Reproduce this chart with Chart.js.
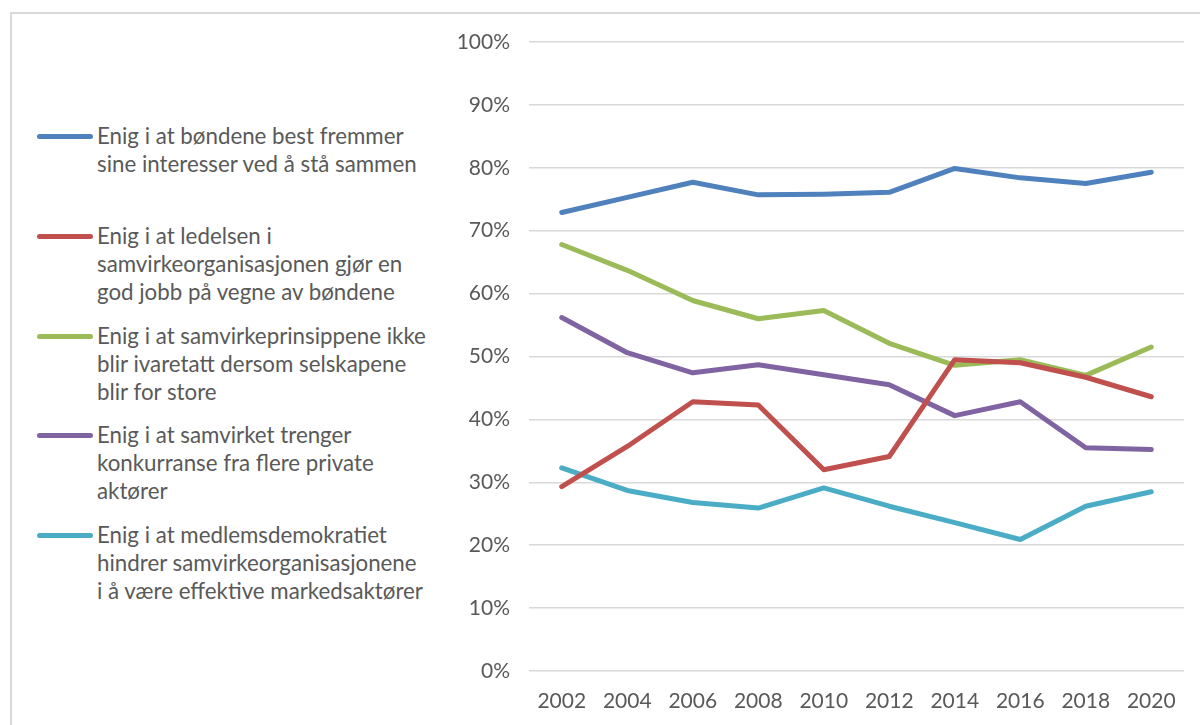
<!DOCTYPE html>
<html>
<head>
<meta charset="utf-8">
<script src="https://cdn.jsdelivr.net/npm/chart.js@4"></script>
<style>
    html, body { margin: 0; padding: 0; background: #fff; }
    body { width: 1200px; height: 725px; position: relative; overflow: hidden; font-family: Lato, "Open Sans", sans-serif; }
    #frame { position: absolute; left: 10px; top: 12px; width: 1300px; height: 800px; border-left: 2px solid #d9d9d9; border-top: 2px solid #d9d9d9; }
    #wrap { position: absolute; left: 440px; top: 0; width: 760px; height: 725px; }
    .legend-item { position: absolute; left: 37px; }
    .legend-item .swatch { position: absolute; left: 0; width: 56px; height: 5px; border-radius: 3px; }
    .legend-item .text { position: absolute; left: 60px; white-space: nowrap; color: #595959; font-size: 22.3px; line-height: 28px; }
</style>
</head>
<body>
<div id="frame"></div>
<div id="legend"></div>
<div id="wrap"><canvas id="chart" width="760" height="725"></canvas></div>
<script>
// data
const years = ['2002', '2004', '2006', '2008', '2010', '2012', '2014', '2016', '2018', '2020'];
const yTicks = [0, 10, 20, 30, 40, 50, 60, 70, 80, 90, 100];

const bondeneSammen = [72.9, 75.3, 77.7, 75.7, 75.8, 76.1, 79.9, 78.4, 77.5, 79.3];
const ledelsenGodJobb = [29.3, 35.7, 42.8, 42.3, 32.0, 34.1, 49.5, 49.0, 46.7, 43.6];
const forStore = [67.8, 63.7, 58.9, 56.0, 57.3, 52.1, 48.6, 49.5, 47.0, 51.5];
const trengerKonkurranse = [56.2, 50.6, 47.4, 48.7, 47.1, 45.5, 40.6, 42.8, 35.5, 35.2];
const medlemsdemokrati = [32.3, 28.7, 26.8, 25.9, 29.1, 26.2, 23.6, 20.9, 26.2, 28.5];

const seriesLabels = [
    ['Enig i at bøndene best fremmer', 'sine interesser ved å stå sammen'],
    ['Enig i at ledelsen i', 'samvirkeorganisasjonen gjør en', 'god jobb på vegne av bøndene'],
    ['Enig i at samvirkeprinsippene ikke', 'blir ivaretatt dersom selskapene', 'blir for store'],
    ['Enig i at samvirket trenger', 'konkurranse fra flere private', 'aktører'],
    ['Enig i at medlemsdemokratiet', 'hindrer samvirkeorganisasjonene', 'i å være effektive markedsaktører']
];
const seriesValues = [bondeneSammen, ledelsenGodJobb, forStore, trengerKonkurranse, medlemsdemokrati];
const seriesColors = ['#4f81bd', '#c0504d', '#9bbb59', '#8064a2', '#4bacc6'];

// legend on the left, built as html
const legendTops = [122, 222, 322, 421, 521];
const legend = document.getElementById('legend');
seriesLabels.forEach((lines, i) => {
    const item = document.createElement('div');
    item.className = 'legend-item';
    item.style.top = legendTops[i] + 'px';
    item.innerHTML = '<div class="swatch" style="top:12px;background:' + seriesColors[i] + '"></div>' +
        '<div class="text">' + lines.join('<br>') + '</div>';
    legend.appendChild(item);
});

const datasets = seriesValues.map((vals, i) => ({
    label: seriesLabels[i].join(' '),
    data: vals,
    borderColor: seriesColors[i],
    backgroundColor: seriesColors[i],
    borderWidth: 5,
    borderCapStyle: 'round',
    borderJoinStyle: 'round',
    pointRadius: 0,
    tension: 0,
    fill: false
}));

new Chart(document.getElementById('chart').getContext('2d'), {
    type: 'line',
    data: { labels: years, datasets: datasets },
    options: {
        responsive: false,
        animation: false,
        devicePixelRatio: 1,
        layout: { padding: { left: 0, right: 16, top: 42, bottom: 0 } },
        plugins: { legend: { display: false }, tooltip: { enabled: false } },
        scales: {
            x: {
                offset: true,
                grid: { display: false, drawTicks: false },
                border: { display: false },
                ticks: { color: '#595959', font: { family: 'Lato', size: 21 }, padding: 18, maxRotation: 0 },
                afterFit: s => { s.height = 54; }
            },
            y: {
                min: 0,
                max: 100,
                afterBuildTicks: s => { s.ticks = yTicks.map(v => ({ value: v })); },
                grid: { color: '#d9d9d9', lineWidth: 1.5, drawTicks: false },
                border: { display: false },
                ticks: { color: '#595959', font: { family: 'Lato', size: 21 }, padding: 19, callback: v => v + '%' },
                afterFit: s => { s.width = 89; }
            }
        }
    }
});
</script>
</body>
</html>
